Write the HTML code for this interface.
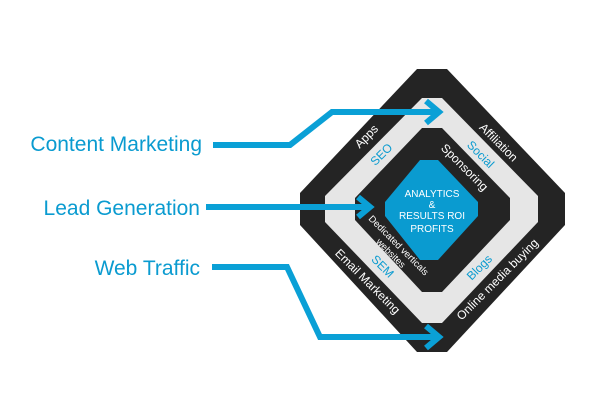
<!DOCTYPE html>
<html><head><meta charset="utf-8"><style>
html,body{margin:0;padding:0;background:#fff}
svg{display:block}
text{font-family:"Liberation Sans",sans-serif}
</style></head><body>
<svg width="600" height="400" viewBox="0 0 600 400" xmlns="http://www.w3.org/2000/svg">
<polygon points="417,69 447,69 565,193 565,225 447,352 417,352 300,225 300,193" fill="#242424"/>
<polygon points="422,98 442,98 538,196 538,222 442,323 422,323 325,222 325,196" fill="#e6e6e6"/>
<polygon points="422,128 442,128 510,198 510,220 442,292 422,292 355,220 355,198" fill="#242424"/>
<polygon points="420,160 438,160 478,202 478,216 438,260 420,260 385,216 385,202" fill="#0a9bd0"/>
<g fill="none" stroke="#0aa0d6" stroke-width="6" stroke-linejoin="miter">
<polyline points="213,145 290,145 332,112 436,112"/>
<polyline points="426,101 439,112 426,123"/>
<polyline points="206,207 368,207"/>
<polyline points="358,197 370,207 358,217"/>
<polyline points="212,267 287,267 320,337 436,337"/>
<polyline points="426,326 439,337 426,348"/>
</g>
<g fill="#0a9bd0" font-size="21" text-anchor="end">
<text x="202" y="151">Content Marketing</text>
<text x="200" y="215">Lead Generation</text>
<text x="200" y="275">Web Traffic</text>
</g>
<g fill="#fff" font-size="10" text-anchor="middle">
<text x="432" y="197">ANALYTICS</text>
<text x="432" y="208">&amp;</text>
<text x="432" y="219">RESULTS ROI</text>
<text x="432" y="232">PROFITS</text>
</g>
<g font-size="12" text-anchor="middle" dominant-baseline="middle">
<text fill="#fff" transform="translate(367,137) rotate(-45)">Apps</text>
<text fill="#fff" transform="translate(498,143) rotate(45)">Affiliation</text>
<text fill="#0a9bd0" transform="translate(382,155) rotate(-45)">SEO</text>
<text fill="#0a9bd0" transform="translate(480,155) rotate(45)">Social</text>
<text fill="#fff" transform="translate(464,168) rotate(45)">Sponsoring</text>
<text fill="#fff" font-size="9.5" transform="translate(395,249) rotate(45)"><tspan x="0" y="-5">Dedicated verticals</tspan><tspan x="0" y="6">websites</tspan></text>
<text fill="#0a9bd0" transform="translate(382,267) rotate(45)">SEM</text>
<text fill="#0a9bd0" transform="translate(480,268) rotate(-45)">Blogs</text>
<text fill="#fff" transform="translate(367,282) rotate(45)">Email Marketing</text>
<text fill="#fff" transform="translate(498,280) rotate(-45)">Online media buying</text>
</g>
</svg>
</body></html>
